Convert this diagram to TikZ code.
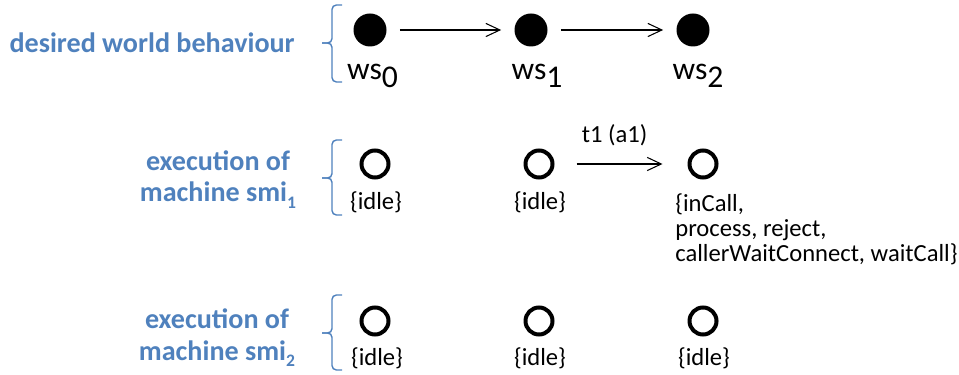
\documentclass[tikz,border=0pt]{standalone}
\usepackage{fontspec}
\setmainfont{Carlito}
\usetikzlibrary{arrows.meta,positioning}

\definecolor{rowblue}{RGB}{79,129,189}
% lowered indices as in ws_0 and smi_1
\newcommand{\wsidx}[1]{\raisebox{-4.5pt}{#1}}
\newcommand{\smiidx}[1]{\raisebox{-3.5pt}{\fontsize{10}{10}\selectfont #1}}

\tikzset{
  wsstate/.style={circle, fill=black, minimum size=0.66cm, inner sep=0pt},
  smstate/.style={circle, draw, line width=0.08cm, minimum size=0.54cm, inner sep=0pt},
  rowlabel/.style={text=rowblue, font=\fontsize{16}{18}\selectfont\bfseries, align=center, inner sep=0pt},
  wslabel/.style={font=\fontsize{18}{20}\selectfont, inner sep=0pt, anchor=base},
  setlabel/.style={font=\fontsize{14}{14.5}\selectfont, inner sep=0pt, anchor=base},
  trans/.style={-{Straight Barb[length=8pt,width=7.5pt]}, line width=0.6pt},
  rowbrace/.style={draw=rowblue, line width=0.8pt, rounded corners=2.5pt}
}

\begin{document}
\begin{tikzpicture}
      \useasboundingbox (0,0) rectangle (19.18,7.48);
      % desired world behaviour
      \node[rowlabel, anchor=base east] at (5.90,6.42) (desired) {desired world behaviour};
      \node[wsstate] at (7.40,6.88) (ws0) {};
      \node[wsstate] at (10.62,6.88) (ws1) {};
      \node[wsstate] at (13.86,6.88) (ws2) {};
      \node[wslabel] at (7.45,5.88) (ws0txt) {ws\wsidx{0}};
      \node[wslabel] at (10.74,5.88) (ws1txt) {ws\wsidx{1}};
      \node[wslabel] at (13.96,5.88) (ws2txt) {ws\wsidx{2}};
      \draw[trans, shorten <=0.26cm, shorten >=0.26cm] (ws0) -- (ws1);
      \draw[trans, shorten <=0.26cm, shorten >=0.26cm] (ws1) -- (ws2);
      \draw[rowbrace] (6.84,7.38) -- (6.64,7.38) -- (6.64,6.62) -- (6.44,6.62);
      \draw[rowbrace] (6.44,6.62) -- (6.64,6.62) -- (6.64,5.84) -- (6.84,5.84);

      % machine smi_1 (base anchor sits on the last line)
      \node[rowlabel, anchor=base] at (4.36,3.44) (exec1) {execution of\\machine smi\smiidx{1}};
      \node[smstate] at (7.50,4.20) (m1s0) {};
      \node[smstate] at (10.78,4.20) (m1s1) {};
      \node[smstate] at (14.06,4.20) (m1s2) {};
      \node[setlabel] at (7.52,3.28) (m1t0) {\{idle\}};
      \node[setlabel] at (10.80,3.28) (m1t1) {\{idle\}};
      \node[setlabel, anchor=base west, align=left] at (13.50,2.24) (m1t2)
        {\{inCall,\\process, reject,\\callerWaitConnect, waitCall\}};
      \draw[trans, shorten <=0.44cm, shorten >=0.5cm] (m1s1) --
        node[setlabel, xshift=-0.13cm, yshift=0.42cm] (t1) {t1 (a1)} (m1s2);
      \draw[rowbrace] (6.84,4.68) -- (6.64,4.68) -- (6.64,3.92) -- (6.44,3.92);
      \draw[rowbrace] (6.44,3.92) -- (6.64,3.92) -- (6.64,3.18) -- (6.84,3.18);

      % machine smi_2
      \node[rowlabel, anchor=base] at (4.34,0.28) (exec2) {execution of\\machine smi\smiidx{2}};
      \node[smstate] at (7.50,1.06) (m2s0) {};
      \node[smstate] at (10.78,1.06) (m2s1) {};
      \node[smstate] at (14.06,1.06) (m2s2) {};
      \node[setlabel] at (7.54,0.18) (m2t0) {\{idle\}};
      \node[setlabel] at (10.80,0.18) (m2t1) {\{idle\}};
      \node[setlabel] at (14.08,0.18) (m2t2) {\{idle\}};
      \draw[rowbrace] (6.84,1.58) -- (6.64,1.58) -- (6.64,0.82) -- (6.44,0.82);
      \draw[rowbrace] (6.44,0.82) -- (6.64,0.82) -- (6.64,0.08) -- (6.84,0.08);
\end{tikzpicture}
\end{document}
